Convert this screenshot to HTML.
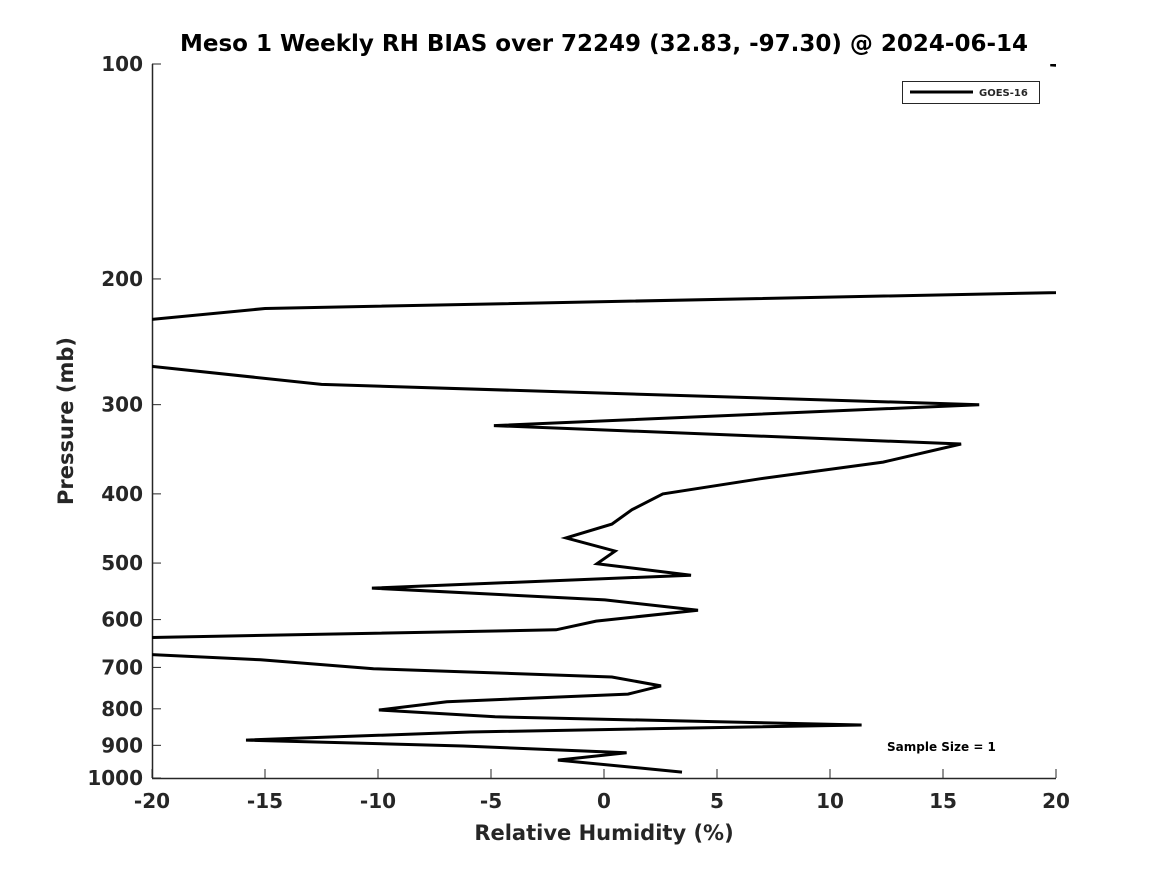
<!DOCTYPE html>
<html><head><meta charset="utf-8"><style>body{margin:0;background:#fff}svg{display:block}text{font-family:"DejaVu Sans","Liberation Sans",sans-serif;font-weight:bold;fill:#262626}</style></head>
<body>
<svg id="chart" width="1167" height="875" viewBox="0 0 1167 875" xmlns="http://www.w3.org/2000/svg">
<defs><clipPath id="clip"><rect x="152" y="64" width="904" height="714"/></clipPath></defs>
<text x="604" y="51" text-anchor="middle" font-size="23" style="fill:#000">Meso 1 Weekly RH BIAS over 72249 (32.83, -97.30) @ 2024-06-14</text>
<g id="axes"></g>
<g id="series" clip-path="url(#clip)"></g>
<text x="604" y="840" text-anchor="middle" font-size="21">Relative Humidity (%)</text>
<text transform="translate(73,421) rotate(-90)" text-anchor="middle" font-size="21">Pressure (mb)</text>
<g>
<rect x="902.5" y="81.5" width="137" height="22" fill="#fff" stroke="#262626" stroke-width="1"/>
<line x1="910" y1="92" x2="973" y2="92" stroke="#000" stroke-width="3"/>
<text x="979" y="96" font-size="10">GOES-16</text>
</g>
<text x="887" y="751" font-size="12" style="fill:#000">Sample Size = 1</text>
</svg>
<script>
const xTicks=[-20,-15,-10,-5,0,5,10,15,20];
const yTicks=[100,200,300,400,500,600,700,800,900,1000];
const rhBias=[30,19.75,25,30,20,-15,-25,-25,-12.5,16.6,-4.87,15.8,12.35,6.9,2.6,1.24,0.35,-1.68,0.49,-0.31,3.85,-10.27,0.04,4.16,-0.35,-2.12,-25,-25,-15.2,-10.2,0.35,2.52,1.06,-6.95,-9.96,-4.82,11.4,-5.93,-15.84,-6.24,1.0,-2.04,3.45];
const pressure=[98,100.3,103,200,209,220,236,255,281,300,321,340.6,361,381,400,421,441,461,481,501,520,542,563,582,603,620,640,660,683,703,722,743,763,782,803,821,843,862,885,902,922,944,981];
const NS='http://www.w3.org/2000/svg';
const L=152,R=1056,T=64,B=778;
const xs=v=>L+(v+20)/40*(R-L);
const ys=p=>T+(Math.log10(p)-2)*(B-T);
const ax=document.getElementById('axes');
function mk(tag,attrs,parent){const e=document.createElementNS(NS,tag);for(const k in attrs)e.setAttribute(k,attrs[k]);parent.appendChild(e);return e;}
const xl=mk('line',{x1:L,y1:B+0.5,x2:R,y2:B+0.5,stroke:'#262626','stroke-width':1.5},ax);


const yl=mk('line',{x1:L+0.5,y1:T,x2:L+0.5,y2:B,stroke:'#262626','stroke-width':1.5},ax);


xTicks.forEach(v=>{const x=xs(v);
const t=mk('line',{x1:x,y1:B,x2:x,y2:B-9,stroke:'#262626','stroke-width':1},ax);


const tx=mk('text',{x:x,y:B+30,'text-anchor':'middle','font-size':20},ax);tx.textContent=v;

});
yTicks.forEach(p=>{const y=ys(p);
const t=mk('line',{x1:L,y1:y,x2:L+9,y2:y,stroke:'#262626','stroke-width':1},ax);


const tx=mk('text',{x:L-9,y:y+7,'text-anchor':'end','font-size':20},ax);tx.textContent=p;

});
const pts=rhBias.map((v,i)=>xs(v).toFixed(1)+','+ys(pressure[i]).toFixed(1)).join(' ');
const pl=mk('polyline',{points:pts,fill:'none',stroke:'#000','stroke-width':3,'stroke-linejoin':'miter'},document.getElementById('series'));


</script>
</body></html>
